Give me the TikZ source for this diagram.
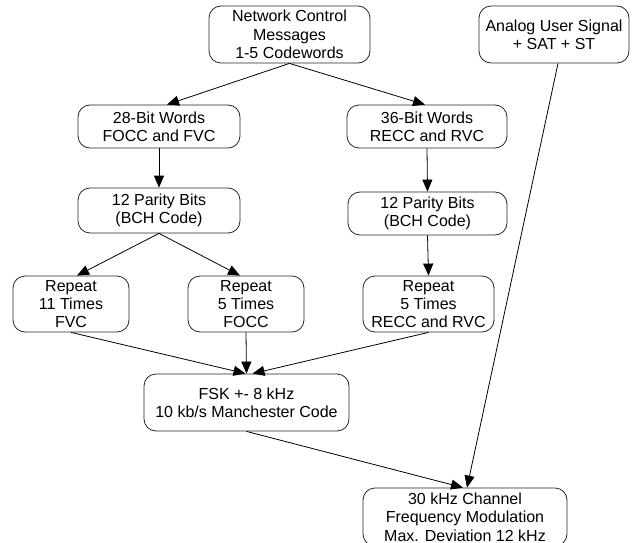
\documentclass[tikz,border=0pt]{standalone}
\usepackage{fontspec}
\setmainfont{Liberation Sans}
\usetikzlibrary{arrows.meta}
\begin{document}
\begin{tikzpicture}[x=1pt,y=-1pt,
  blk/.style={draw=black!85, line width=0.8pt, rounded corners=12pt,
    inner sep=0pt, align=center, font=\fontsize{16pt}{18.3pt}\selectfont},
  link/.style={draw=black, line width=0.8pt,
    -{Triangle[length=12pt,width=10pt]}}]
\useasboundingbox (0,0) rectangle (632,543);

% message path
\node[blk, minimum width=161pt, minimum height=57pt] (net) at (289.5,34.5)
  {Network Control\\Messages\\1-5 Codewords};
\node[blk, minimum width=150pt, minimum height=57pt] (analog) at (554,34.5)
  {Analog User Signal\\+ SAT + ST};

\node[blk, minimum width=162pt, minimum height=43pt] (w28) at (159,126.5)
  {28-Bit Words\\FOCC and FVC};
\node[blk, minimum width=160pt, minimum height=43pt] (w36) at (427,126.5)
  {36-Bit Words\\RECC and RVC};

\node[blk, minimum width=162pt, minimum height=45pt] (p1) at (159,210.5)
  {12 Parity Bits\\(BCH Code)};
\node[blk, minimum width=159pt, minimum height=43pt] (p2) at (427.5,213.5)
  {12 Parity Bits\\(BCH Code)};

\node[blk, minimum width=116pt, minimum height=56pt] (r1) at (71,304)
  {Repeat\\11 Times\\FVC};
\node[blk, minimum width=116pt, minimum height=56pt] (r2) at (246,304)
  {Repeat\\5 Times\\FOCC};
\node[blk, minimum width=131pt, minimum height=56pt] (r3) at (428.5,304)
  {Repeat\\5 Times\\RECC and RVC};

\node[blk, minimum width=205pt, minimum height=57pt] (fsk) at (246.5,402.5)
  {FSK +- 8 kHz\\10 kb/s Manchester Code};
\node[blk, minimum width=204pt, minimum height=58pt] (ch) at (465,517)
  {30 kHz Channel\\Frequency Modulation\\Max. Deviation 12 kHz};

% connectors
\draw[link] (net.south) -- ([xshift=8pt]w28.north);
\draw[link] (net.south) -- ([xshift=-2pt]w36.north);
\draw[link] (w28.south) -- (p1.north);
\draw[link] (w36.south) -- (p2.north);
\draw[link] (p1.south) -- ([xshift=6pt]r1.north);
\draw[link] (p1.south) -- ([xshift=-6pt]r2.north);
\draw[link] (p2.south) -- (r3.north);
\draw[link] (r1.south) -- ([xshift=-1pt]fsk.north);
\draw[link] (r2.south) -- (fsk.north);
\draw[link] (r3.south) -- ([xshift=6pt]fsk.north);
\draw[link] (fsk.south) -- ([xshift=-2pt]ch.north);
\draw[link] ([xshift=4pt]analog.south) -- ([xshift=2pt]ch.north);
\end{tikzpicture}
\end{document}
